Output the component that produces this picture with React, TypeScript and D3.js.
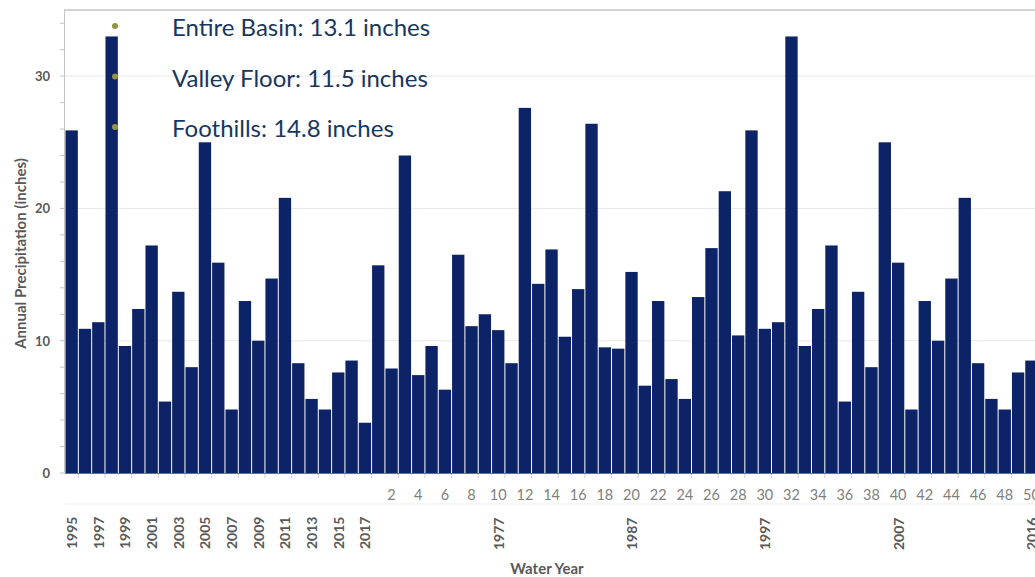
import React from "react";
import * as d3 from "d3";

// ---- data ----
const firstYears = [
  "1995","1996","1997","1998","1999","2000","2001","2002","2003","2004","2005","2006",
  "2007","2008","2009","2010","2011","2012","2013","2014","2015","2016","2017",
];
const secondIndex = [
  "1","2","3","4","5","6","7","8","9","10","11","12","13","14","15","16","17","18","19","20",
  "21","22","23","24","25","26","27","28","29","30","31","32","33","34","35","36","37","38","39","40",
  "41","42","43","44","45","46","47","48","49","50",
];
const firstValues = [
  25.9, 10.9, 11.4, 33.0, 9.6, 12.4, 17.2, 5.4, 13.7, 8.0, 25.0, 15.9,
  4.8, 13.0, 10.0, 14.7, 20.8, 8.3, 5.6, 4.8, 7.6, 8.5, 3.8,
];
const secondValues = [
  15.7, 7.9, 24.0, 7.4, 9.6, 6.3, 16.5, 11.1, 12.0, 10.8, 8.3, 27.6, 14.3, 16.9, 10.3, 13.9,
  26.4, 9.5, 9.4, 15.2, 6.6, 13.0, 7.1, 5.6, 13.3, 17.0, 21.3, 10.4,
  25.9, 10.9, 11.4, 33.0, 9.6, 12.4, 17.2, 5.4, 13.7, 8.0, 25.0, 15.9,
  4.8, 13.0, 10.0, 14.7, 20.8, 8.3, 5.6, 4.8, 7.6, 8.5,
];
const secondYearLabels = [
  { at: "10", label: "1977" },
  { at: "20", label: "1987" },
  { at: "30", label: "1997" },
  { at: "40", label: "2007" },
  { at: "50", label: "2016" },
];
const yTicks = [0, 10, 20, 30];
const legendItems = [
  "Entire Basin: 13.1 inches",
  "Valley Floor: 11.5 inches",
  "Foothills: 14.8 inches",
];

const categories = [...firstYears, ...secondIndex];
const values = [...firstValues, ...secondValues];

const W = 1035;
const H = 577;
const left = 65;
const step = 13.33;
const baseY = 473;
const topY = 10;

export default function App() {
  const x = d3
    .scaleBand<string>()
    .domain(categories)
    .range([left, left + step * categories.length])
    .paddingInner(0)
    .paddingOuter(0);
  const y = d3.scaleLinear().domain([0, 35]).range([baseY, topY]);
  const bw = x.bandwidth();
  const minor = d3.range(0, 35, 2);
  const gray = "#595959";
  const font = "Lato, 'Open Sans', sans-serif";

  return (
    <svg
      width={W}
      height={H}
      style={{ position: "absolute", left: 0, top: 0, background: "#fff" }}
      fontFamily={font}
    >
      {/* gridlines */}
      {yTicks.filter((t) => t > 0).map((t) => (
        <line key={"g" + t} x1={left} x2={W} y1={y(t)} y2={y(t)} stroke="#e8e8e8" strokeWidth={1} />
      ))}
      {/* top border */}
      <line x1={left - 1} x2={W} y1={y(35)} y2={y(35)} stroke="#c4c4c4" strokeWidth={1.5} />
      {/* left axis */}
      <line x1={left - 0.5} x2={left - 0.5} y1={y(35)} y2={y(0)} stroke="#c4c4c4" strokeWidth={1} />
      {minor.map((t) => (
        <line key={"m" + t} x1={left - 5} x2={left - 0.5} y1={y(t)} y2={y(t)} stroke="#c4c4c4" strokeWidth={1} />
      ))}
      {/* bars */}
      {categories.map((c, i) => (
        <rect
          key={c}
          x={(x(c) as number) + 0.5}
          y={y(values[i])}
          width={bw - 1}
          height={y(0) - y(values[i])}
          fill="#0c2367"
        />
      ))}
      {/* baseline */}
      <line x1={left} x2={W} y1={y(0) + 0.5} y2={y(0) + 0.5} stroke="#5a6fa8" strokeWidth={1} />
      {categories.map((c, i) =>
        i % 2 === 1 ? (
          <line key={"bt" + c} x1={x(c)} x2={x(c)} y1={y(0) + 1} y2={y(0) + 5} stroke="#d0d0d0" strokeWidth={1} />
        ) : null
      )}
      {/* faint separator line below number row */}
      <line x1={left} x2={W} y1={504} y2={504} stroke="#ececec" strokeWidth={1} />
      {/* y tick labels */}
      {yTicks.map((t) => (
        <text
          key={"yt" + t}
          x={50}
          y={y(t)}
          textAnchor="end"
          dominantBaseline="central"
          fontSize={13}
          fontWeight="bold"
          fill={gray}
        >
          {t}
        </text>
      ))}
      {/* y axis title */}
      <text
        transform={`translate(20, ${(y(0) + y(35)) / 2 + 12}) rotate(-90)`}
        textAnchor="middle"
        dominantBaseline="central"
        fontSize={15}
        fontWeight="bold"
        fill={gray}
      >
        Annual Precipitation (inches)
      </text>
      {/* number row labels */}
      {secondIndex.filter((s) => +s % 2 === 0).map((s) => (
        <text
          key={"n" + s}
          x={(x(s) as number) + bw / 2}
          y={500}
          textAnchor="middle"
          fontSize={14.5}
          fill="#808080"
        >
          {s}
        </text>
      ))}
      {/* rotated year labels, first group */}
      {firstYears.filter((yr) => +yr % 2 === 1).map((yr) => (
        <text
          key={"fy" + yr}
          transform={`translate(${(x(yr) as number) + bw / 2}, 549) rotate(-90)`}
          textAnchor="start"
          dominantBaseline="central"
          fontSize={14}
          fontWeight="bold"
          fill={gray}
        >
          {yr}
        </text>
      ))}
      {/* rotated year labels, second group */}
      {secondYearLabels.map((d) => (
        <text
          key={"sy" + d.label}
          transform={`translate(${(x(d.at) as number) + bw / 2}, 550) rotate(-90)`}
          textAnchor="start"
          dominantBaseline="central"
          fontSize={14}
          fontWeight="bold"
          fill={gray}
        >
          {d.label}
        </text>
      ))}
      {/* x axis title */}
      <text x={547} y={574} textAnchor="middle" fontSize={15} fontWeight="bold" fill={gray}>
        Water Year
      </text>
      {/* legend text */}
      {legendItems.map((t, i) => (
        <g key={"lg" + i}>
          <circle cx={115} cy={26 + i * 50.5} r={3} fill="#949440" />
          <text x={172} y={36 + i * 50.5} fontSize={24} fill="#17375e" fontFamily={font}>
            {t}
          </text>
        </g>
      ))}
    </svg>
  );
}
